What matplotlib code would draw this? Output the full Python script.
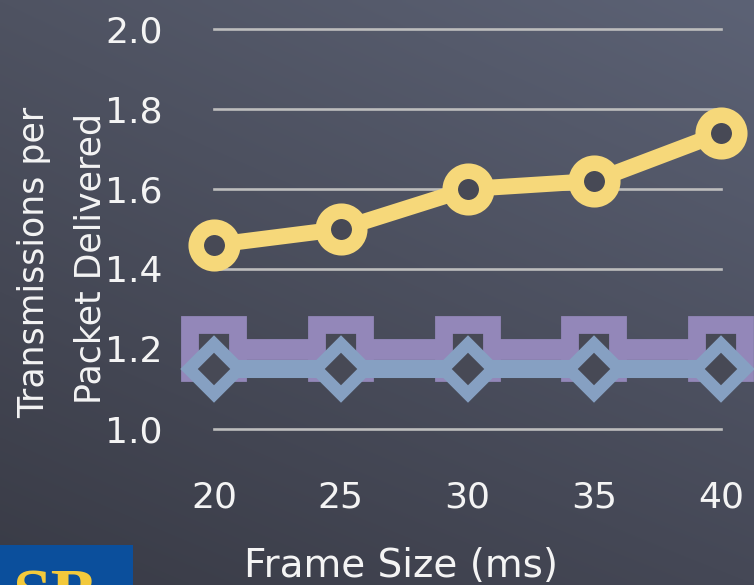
import numpy as np
import matplotlib
matplotlib.use('Agg')
import matplotlib.pyplot as plt
from matplotlib.patches import Rectangle

# ---- data ----
frame_sizes = [20, 25, 30, 35, 40]
series_yellow = [1.46, 1.50, 1.60, 1.62, 1.74]
series_purple = [1.20, 1.20, 1.20, 1.20, 1.20]
series_blue = [1.15, 1.15, 1.15, 1.15, 1.15]
y_ticks = [1.0, 1.2, 1.4, 1.6, 1.8, 2.0]
y_tick_labels = ['1.0', '1.2', '1.4', '1.6', '1.8', '2.0']
x_tick_labels = ['20', '25', '30', '35', '40']
x_label = 'Frame Size (ms)'
y_label_lines = ['Transmissions per', 'Packet Delivered']
logo_text = 'SB'

W, H = 754, 585
fig = plt.figure(figsize=(W / 100, H / 100), dpi=100)

# ---- chalkboard background (smooth gradient) ----
bg = fig.add_axes([0, 0, 1, 1], zorder=-10)
tl = np.array([0x4F, 0x53, 0x62]) / 255
tr = np.array([0x5C, 0x62, 0x75]) / 255
bl = np.array([0x39, 0x3B, 0x46]) / 255
br = np.array([0x45, 0x48, 0x56]) / 255
u = np.linspace(0, 1, 200)[None, :, None]
v = np.linspace(0, 1, 160)[:, None, None]
img = (1 - u) * (1 - v) * tl + u * (1 - v) * tr + (1 - u) * v * bl + u * v * br
bg.imshow(img, aspect='auto', extent=[0, 1, 0, 1], interpolation='bilinear')
bg.set_axis_off()

# ---- main axes ----
ax = fig.add_axes([214 / W, (H - 429) / H, 507 / W, 400 / H])
ax.patch.set_alpha(0)
for s in ax.spines.values():
    s.set_visible(False)
ax.set_xlim(20, 40)
ax.set_ylim(1.0, 2.0)

grid_color = '#BDBDBD'
for yv in y_ticks:
    ax.axhline(yv, color=grid_color, lw=1.9, clip_on=False, zorder=1)

dark = '#474955'
yellow = '#F6D87A'
purple = '#9387B9'
blue = '#86A0C2'

ax.plot(frame_sizes, series_purple, color=purple, lw=15, marker='s', ms=34.5,
        mew=12.8, mfc=dark, mec=purple, clip_on=False, zorder=3,
        solid_capstyle='butt')
ax.plot(frame_sizes, series_blue, color=blue, lw=13, marker='D', ms=25.7,
        mew=8.9, mfc=dark, mec=blue, clip_on=False, zorder=4,
        solid_capstyle='butt')
ax.plot(frame_sizes, series_yellow, color=yellow, lw=11.5, marker='o', ms=26.3,
        mew=11.2, mfc=dark, mec=yellow, clip_on=False, zorder=5,
        solid_capstyle='butt')

ax.set_xticks(frame_sizes)
ax.set_xticklabels(x_tick_labels)
ax.set_yticks(y_ticks)
ax.set_yticklabels(y_tick_labels)
ax.tick_params(axis='x', length=0, pad=37, labelsize=26, labelcolor='#F4F4F4')
ax.tick_params(axis='y', length=0, pad=37, labelsize=26, labelcolor='#F4F4F4')

# ---- axis titles ----
fig.text(401 / W, 8 / H, x_label, ha='center', va='baseline', fontsize=28,
         color='#F4F4F4')
fig.text(34 / W, 1 - 262 / H, y_label_lines[0], rotation=90, ha='center',
         va='center', fontsize=25, color='#F4F4F4')
fig.text(91 / W, 1 - 258 / H, y_label_lines[1], rotation=90, ha='center',
         va='center', fontsize=25, color='#F4F4F4')

# ---- partial logo bottom-left ----
fig.patches.append(Rectangle((0, 0), 133 / W, 40 / H, transform=fig.transFigure,
                             facecolor='#0B4F9C', edgecolor='none', zorder=2))
fig.text(12 / W, (H - 618) / H, logo_text, ha='left', va='baseline',
         fontsize=50, fontweight='bold', family='Liberation Serif',
         color='#F3C93B', zorder=3)

fig.savefig('out.png', dpi=100)
